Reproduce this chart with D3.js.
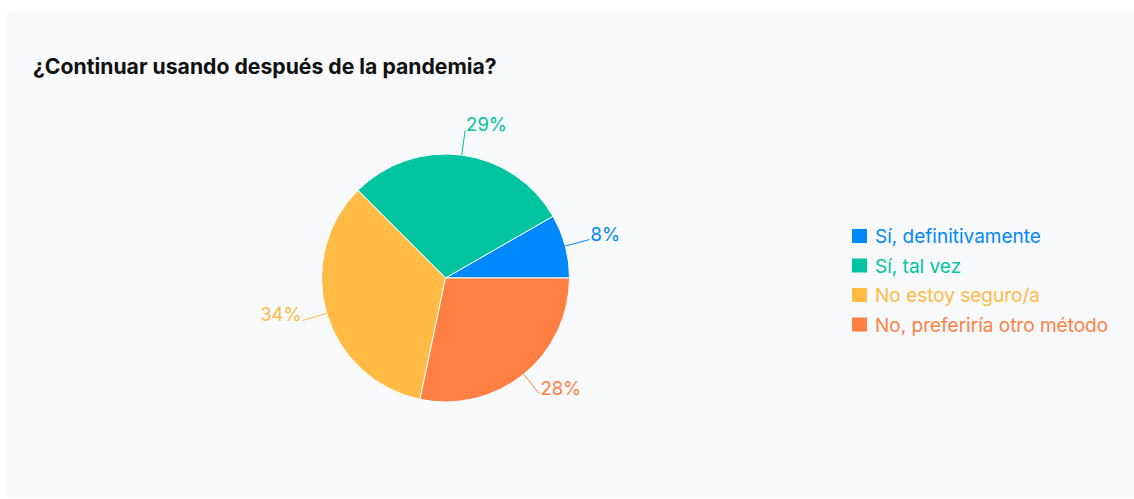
<!DOCTYPE html>
<html>
<head>
    <meta charset="utf-8">
    <title>¿Continuar usando después de la pandemia?</title>
    <style>
        body { margin: 0; background: #fff; }
        svg { display: block; }
    </style>
</head>
<body>

    <script src="https://cdnjs.cloudflare.com/ajax/libs/d3/7.8.5/d3.min.js"></script>
    <script type="text/javascript">

    // data
    var categories = ["Sí, definitivamente", "Sí, tal vez", "No estoy seguro/a", "No, preferiría otro método"];
    var values     = [8.3, 29.2, 34.2, 28.3];
    var colors     = ["#0088FE", "#00C49F", "#FFBB44", "#FF8042"];

    var width = 1134, height = 499;
    var cx = 445.5, cy = 278, radius = 124;
    var font = "Inter, 'Noto Sans', sans-serif";

    var svg = d3.select("body")
        .append("svg")
        .attr("width", width)
        .attr("height", height);

    // panel
    svg.append("rect")
        .attr("x", 7)
        .attr("y", 11)
        .attr("width", width + 10)
        .attr("height", 486)
        .attr("rx", 4)
        .style("fill", "#f8f9fb");

    svg.append("text")
        .attr("x", 33)
        .attr("y", 74)
        .text("¿Continuar usando después de la pandemia?")
        .style("font-family", font)
        .style("font-weight", "700")
        .style("font-size", "21.2px")
        .style("fill", "#111");

    var data = categories.map(function(c, i) { return {name: c, value: values[i], color: colors[i]}; });
    var total = d3.sum(values);

    // start at 3 o'clock and go counterclockwise (d3 angles: 0 = 12 o'clock, clockwise)
    var pie = d3.pie()
        .sort(null)
        .value(function(d) { return d.value; })
        .startAngle(Math.PI / 2)
        .endAngle(Math.PI / 2 - 2 * Math.PI);

    var arc = d3.arc().innerRadius(0).outerRadius(radius);

    var chart = svg.append("g")
        .attr("transform", "translate(" + cx + "," + cy + ")");

    var arcs = pie(data);

    chart.selectAll("path.slice")
        .data(arcs)
        .enter().append("path")
        .attr("class", "slice")
        .attr("d", arc)
        .style("fill", function(d) { return d.data.color; })
        .style("stroke", "#fff")
        .style("stroke-width", 1);

    function pt(d, r) {
        var a = (d.startAngle + d.endAngle) / 2;
        return [r * Math.sin(a), -r * Math.cos(a)];
    }

    chart.selectAll("line.lead")
        .data(arcs)
        .enter().append("line")
        .attr("class", "lead")
        .attr("x1", function(d) { return pt(d, radius)[0]; })
        .attr("y1", function(d) { return pt(d, radius)[1]; })
        .attr("x2", function(d) { return pt(d, radius + 25)[0]; })
        .attr("y2", function(d) { return pt(d, radius + 25)[1]; })
        .style("stroke", function(d) { return d.data.color; })
        .style("stroke-width", 1);

    chart.selectAll("text.lbl")
        .data(arcs)
        .enter().append("text")
        .attr("class", "lbl")
        .attr("x", function(d) { var p = pt(d, radius + 25); return p[0] + (p[0] >= 0 ? 1 : -1); })
        .attr("y", function(d) { return pt(d, radius + 25)[1] + 1; })
        .attr("text-anchor", function(d) { return pt(d, radius)[0] >= 0 ? "start" : "end"; })
        .text(function(d) { return Math.round(d.data.value / total * 100) + "%"; })
        .style("font-family", font)
        .style("font-size", "18.5px")
        .style("fill", function(d) { return d.data.color; });

    // legend
    var legend = svg.append("g")
        .attr("transform", "translate(852, 229)");

    var item = legend.selectAll("g")
        .data(data)
        .enter().append("g")
        .attr("transform", function(d, i) { return "translate(0," + (i * 29.5) + ")"; });

    item.append("rect")
        .attr("width", 15)
        .attr("height", 14)
        .style("fill", function(d) { return d.color; });

    item.append("text")
        .attr("x", 23)
        .attr("y", 14)
        .text(function(d) { return d.name; })
        .style("font-family", font)
        .style("font-size", "19px")
        .style("fill", function(d) { return d.color; });

    </script>
</body>
</html>
